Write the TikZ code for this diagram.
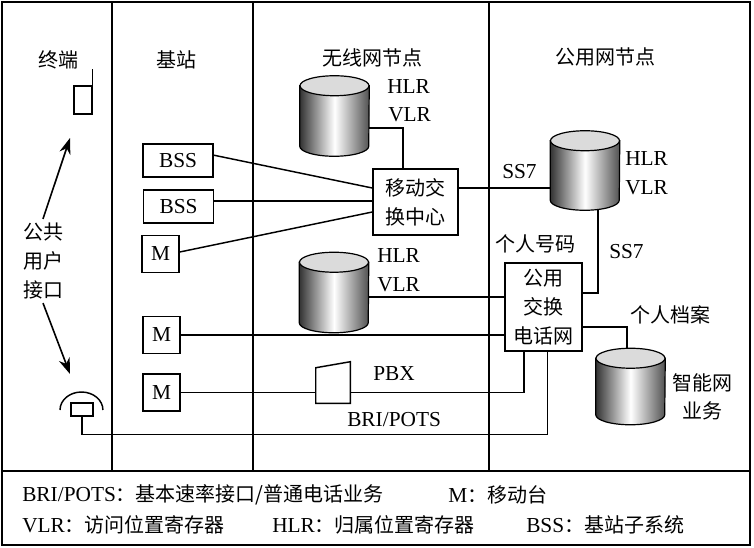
\documentclass[tikz,border=0pt]{standalone}
\usepackage{fontspec}
\setmainfont{Liberation Serif}
\newfontfamily\cjk{Noto Sans CJK SC}
\usetikzlibrary{calc}
\usetikzlibrary{arrows.meta}

\definecolor{dbdark}{gray}{0.2}
\definecolor{dbtop}{gray}{0.86}

\newcommand{\zh}[1]{{\fontsize{15}{21.5}\selectfont\cjk #1}}

\newcommand{\database}[4]{%
    \node[inner sep=0pt, minimum width=51.75pt, minimum height=#4*0.75pt] (#1) at (#2,#3+#4/2) {};
    \shade[draw, line width=0.9pt, left color=dbdark, right color=dbdark!85!white, middle color=white]
        (#1.north west) -- (#1.south west)
        arc[start angle=180, end angle=360, x radius=25.875pt, y radius=7.5pt]
        -- (#1.north east) -- cycle;
    \draw[line width=0.9pt, fill=dbtop] (#1.north) ellipse[x radius=25.875pt, y radius=7.5pt];
}

\tikzset{
    every node/.style={inner sep=0pt, font=\fontsize{16}{21.5}\selectfont},
    zh/.style={font=\fontsize{15}{21.5}\selectfont\cjk},
    tag/.style={anchor=west},
    frame/.style={line width=1.5pt},
    divider/.style={line width=1.1pt},
    wire/.style={line width=1.1pt},
    box/.style={draw, line width=1.1pt},
    bsbox/.style={box, minimum width=52.5pt, minimum height=24.75pt},
    mbox/.style={box, minimum width=27.75pt, minimum height=27.5pt},
    bigarrow/.style={line width=1.2pt, -{Stealth[length=12pt, width=8.5pt]}},
}

\begin{document}
\begin{tikzpicture}[x=0.75pt, y=-0.75pt]
                \useasboundingbox (0,0) rectangle (754,547);

                \draw[frame] (2,2) rectangle (750,545);
                \draw[divider] (2,471) -- (750,471);
                \foreach \x in {112,253,489}
                    \draw[divider] (\x,2) -- (\x,471);

                \node[zh] (lterm) at (58,60) {终端};
                \node[zh] (lbs) at (176,60) {基站};
                \node[zh] (lwnode) at (372,58) {无线网节点};
                \node[zh] (lpnode) at (605,57) {公用网节点};

                \node[box, minimum width=13.5pt, minimum height=21pt] (term) at (83,100) {};
                \draw[wire] (term.north east) -- ++(0,-16);

                \node[zh, align=center, inner sep=3pt] (iface) at (43,261) {公共\\用户\\接口};
                \coordinate (uptip) at (70,138);
                \coordinate (downtip) at (70,374);
                \draw[bigarrow] (iface.north) -- (uptip);
                \draw[bigarrow] (iface.south) -- (downtip);

                \draw[wire] (60,410) arc[start angle=180, end angle=0, x radius=16.1pt, y radius=13.5pt];
                \node[box, fill=white, minimum width=16.5pt, minimum height=9.75pt] (phone) at (82,409.5) {};

                \node[bsbox] (bss1) at (178,160.5) {BSS};
                \node[bsbox] (bss2) at (178.5,206.5) {BSS};
                \node[mbox] (m1) at (160.5,254) {M};
                \node[mbox] (m2) at (161.5,335) {M};
                \node[mbox] (m3) at (161.5,392.5) {M};

                \node[box, zh, align=center, minimum width=63.75pt, minimum height=49.5pt] (msc) at (415.5,202) {移动交\\换中心};
                \node[box, zh, align=center, minimum width=57.75pt, minimum height=66pt] (pstn) at (543.5,307) {公用\\交换\\电话网};

                \database{hlrwl}{334.5}{86}{60}
                \database{hlrpub}{585}{141}{59}
                \database{hlrw2}{334}{262.5}{60}
                \database{hlrin}{630.5}{358.5}{56}

                \node[inner sep=0pt, minimum width=25.5pt, minimum height=30.75pt] (pbx) at (333,382.5) {};
                \draw[wire] (pbx.south west) -- ([yshift=-4.5pt]pbx.north west) -- (pbx.north east) -- (pbx.south east) -- cycle;

                \draw[wire] ([yshift=4pt]bss1.east) -- ([yshift=10.5pt]msc.west);
                \draw[wire] ([yshift=4pt]bss2.east) -- ([yshift=4pt]bss2.east -| msc.west);
                \draw[wire] ([yshift=1.5pt]m1.east) -- ([yshift=-7.5pt]msc.west);
                \draw[wire] ([yshift=-9pt]hlrwl.east) -| ([xshift=-9.4pt]msc.north);
                \draw[wire] ([yshift=10.5pt]msc.east) -- ([yshift=10.5pt]msc.east -| hlrpub.west);
                \draw[wire] ([xshift=9.75pt, yshift=-7pt]hlrpub.south) |- ([yshift=10.5pt]pstn.east);
                \draw[wire] ([yshift=-3.4pt]hlrw2.east) -- ([yshift=-3.4pt]hlrw2.east -| pstn.west);
                \draw[wire] (m2.east) -- (m2.east -| pstn.west);
                \draw[wire] (m3.east) -- (m3.east -| pbx.west);
                \draw[wire] (m3.east -| pbx.east) -| ($(pstn.south west)!0.25!(pstn.south east)$);
                \draw[wire] ([yshift=-15pt]pstn.east) -| ([xshift=-2.6pt, yshift=7.5pt]hlrin.north);
                \draw[wire] (phone.south) -- ++(0,18) -| ($(pstn.south west)!0.55!(pstn.south east)$);

                \node[tag] (h1) at (387,87) {HLR};
                \node[tag] (v1) at (388,115) {VLR};
                \node[tag] (h2) at (625,159) {HLR};
                \node[tag] (v2) at (625,188) {VLR};
                \node[tag] (h3) at (377,256) {HLR};
                \node[tag] (v3) at (377,285) {VLR};
                \node[tag] (ss7a) at (502,172) {SS7};
                \node[tag] (ss7b) at (609,252) {SS7};
                \node[zh] (pnum) at (535,244) {个人号码};
                \node[tag] (lpbx) at (373,374) {PBX};
                \node[tag] (lbri) at (347,420) {BRI/POTS};
                \node[zh] (pfile) at (670,315) {个人档案};
                \node[zh, align=center] (lin) at (702,397) {智能网\\业务};

                \node[tag] (key1) at (22,495) {BRI/POTS\zh{：基本速率接口/普通电话业务}};
                \node[tag] (key2) at (448,495) {M\zh{：移动台}};
                \node[tag] (key3) at (22,525) {VLR\zh{：访问位置寄存器}};
                \node[tag] (key4) at (272,525) {HLR\zh{：归属位置寄存器}};
                \node[tag] (key5) at (526,525) {BSS\zh{：基站子系统}};
            \end{tikzpicture}
\end{document}
